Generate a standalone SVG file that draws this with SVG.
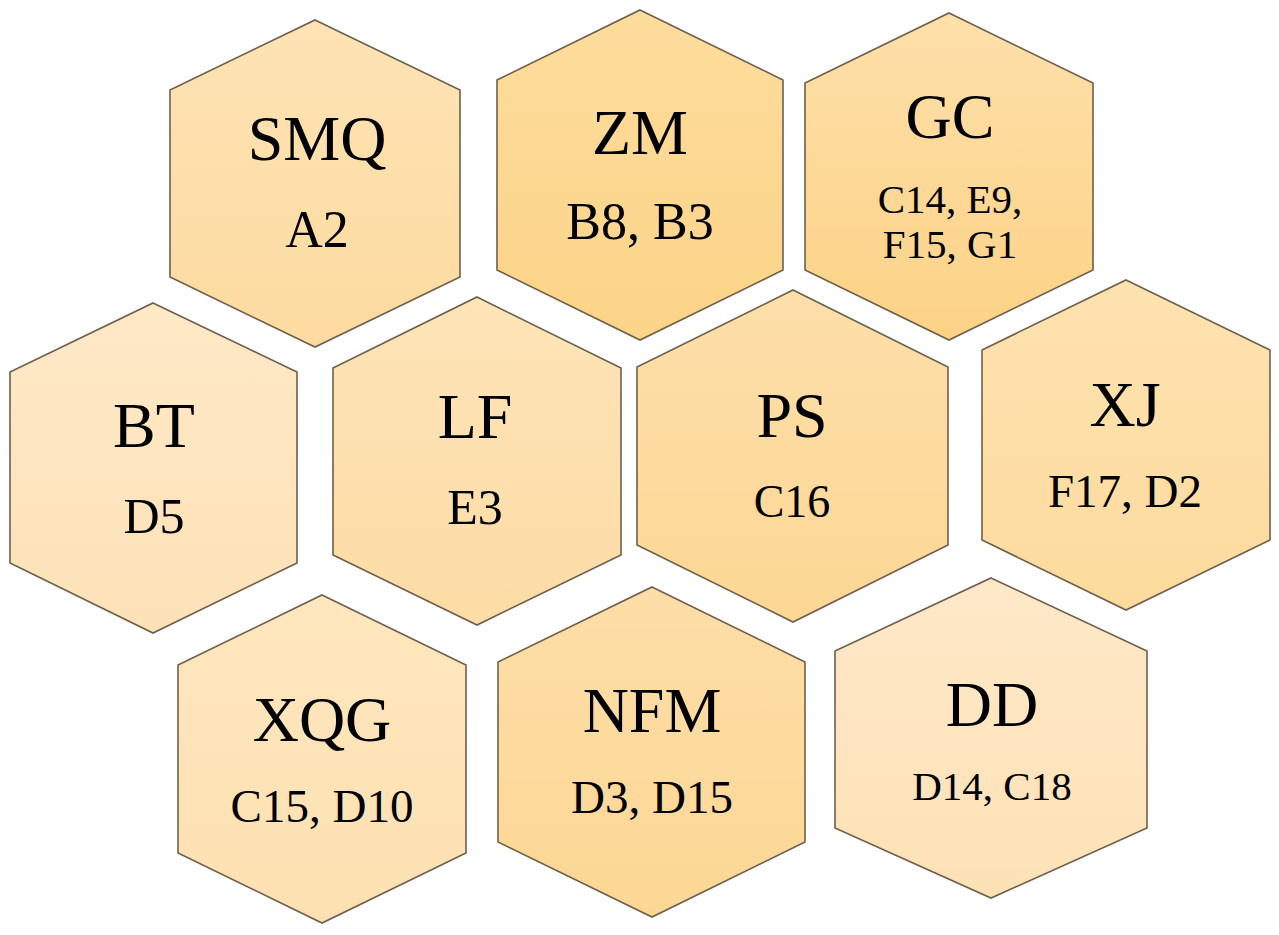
<svg xmlns="http://www.w3.org/2000/svg" width="1279" height="935" viewBox="0 0 1279 935">
<style>
.hex{stroke:#6e5f4c;stroke-width:1.6;stroke-linejoin:miter}
.t{font-family:"Liberation Serif","Times New Roman",serif;fill:#000;text-anchor:middle}
.title{font-size:64px}
</style>
<defs>
<linearGradient id="gA" x1="0" y1="0" x2="0" y2="1"><stop offset="0" stop-color="#FEE3B5"/><stop offset="1" stop-color="#FDDBA0"/></linearGradient>
<linearGradient id="gB" x1="0" y1="0" x2="0" y2="1"><stop offset="0" stop-color="#FDDC9C"/><stop offset="1" stop-color="#FCD488"/></linearGradient>
<linearGradient id="gC" x1="0" y1="0" x2="0" y2="1"><stop offset="0" stop-color="#FEE0AA"/><stop offset="1" stop-color="#FCD286"/></linearGradient>
<linearGradient id="gD" x1="0" y1="0" x2="0" y2="1"><stop offset="0" stop-color="#FEE8C6"/><stop offset="1" stop-color="#FDE2B8"/></linearGradient>
<linearGradient id="gE" x1="0" y1="0" x2="0" y2="1"><stop offset="0" stop-color="#FEE4B8"/><stop offset="1" stop-color="#FDDCA5"/></linearGradient>
<linearGradient id="gF" x1="0" y1="0" x2="0" y2="1"><stop offset="0" stop-color="#FEDFAA"/><stop offset="1" stop-color="#FCD794"/></linearGradient>
<linearGradient id="gG" x1="0" y1="0" x2="0" y2="1"><stop offset="0" stop-color="#FEE2B0"/><stop offset="1" stop-color="#FDDB9E"/></linearGradient>
<linearGradient id="gH" x1="0" y1="0" x2="0" y2="1"><stop offset="0" stop-color="#FEE6BE"/><stop offset="1" stop-color="#FEE1B2"/></linearGradient>
<linearGradient id="gI" x1="0" y1="0" x2="0" y2="1"><stop offset="0" stop-color="#FEDEA8"/><stop offset="1" stop-color="#FCD794"/></linearGradient>
<linearGradient id="gJ" x1="0" y1="0" x2="0" y2="1"><stop offset="0" stop-color="#FEE8C8"/><stop offset="1" stop-color="#FEE2B6"/></linearGradient>
</defs>
<rect width="1279" height="935" fill="#ffffff"/>
<g id="connectors"></g>
<g id="SMQ">
<polygon class="hex" fill="url(#gA)" points="315,20 460,90 460,277 315,347 170,277 170,90"/>
<text class="t title" x="317" y="160">SMQ</text>
<text class="t" x="317" y="247" font-size="52">A2</text>
</g>
<g id="ZM">
<polygon class="hex" fill="url(#gB)" points="640,10 783,80 783,270 640,340 497,270 497,80"/>
<text class="t title" x="640" y="154">ZM</text>
<text class="t" x="640" y="239" font-size="52">B8, B3</text>
</g>
<g id="GC">
<polygon class="hex" fill="url(#gC)" points="949,13 1093,83 1093,270 949,340 805,270 805,83"/>
<text class="t title" x="950" y="138">GC</text>
<text class="t" x="950" y="213" font-size="41">C14, E9,</text>
<text class="t" x="950" y="258" font-size="41">F15, G1</text>
</g>
<g id="BT">
<polygon class="hex" fill="url(#gD)" points="153,303 297,372 297,563 153,633 10,563 10,372"/>
<text class="t title" x="154" y="447">BT</text>
<text class="t" x="154" y="533" font-size="50">D5</text>
</g>
<g id="LF">
<polygon class="hex" fill="url(#gE)" points="477,297 621,368 621,555 477,625 333,555 333,368"/>
<text class="t title" x="475" y="438">LF</text>
<text class="t" x="475" y="524" font-size="50">E3</text>
</g>
<g id="PS">
<polygon class="hex" fill="url(#gF)" points="793,290 948,367 948,545 793,622 637,545 637,367"/>
<text class="t title" x="792" y="437">PS</text>
<text class="t" x="792" y="517" font-size="46">C16</text>
</g>
<g id="XJ">
<polygon class="hex" fill="url(#gG)" points="1126,280 1270,350 1270,540 1126,610 982,540 982,350"/>
<text class="t title" x="1125" y="426">XJ</text>
<text class="t" x="1125" y="507" font-size="47">F17, D2</text>
</g>
<g id="XQG">
<polygon class="hex" fill="url(#gH)" points="322,595 466,665 466,853 322,923 178,853 178,665"/>
<text class="t title" x="322" y="741">XQG</text>
<text class="t" x="322" y="822" font-size="47">C15, D10</text>
</g>
<g id="NFM">
<polygon class="hex" fill="url(#gI)" points="652,587 805,662 805,842 652,917 498,842 498,662"/>
<text class="t title" x="652" y="732">NFM</text>
<text class="t" x="652" y="813" font-size="47">D3, D15</text>
</g>
<g id="DD">
<polygon class="hex" fill="url(#gJ)" points="991,578 1147,651 1147,828 991,898 835,828 835,651"/>
<text class="t title" x="992" y="726">DD</text>
<text class="t" x="992" y="800" font-size="41">D14, C18</text>
</g>
</svg>
